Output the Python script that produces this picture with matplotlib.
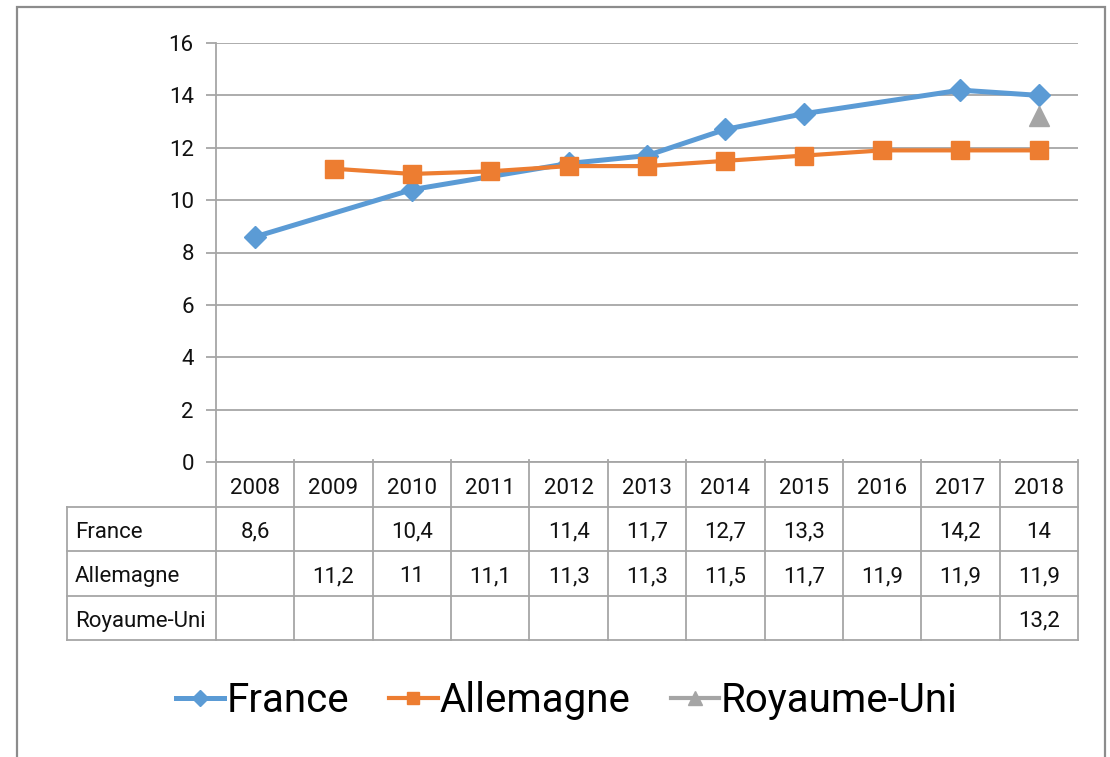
import numpy as np
import matplotlib
matplotlib.use('Agg')
import matplotlib.pyplot as plt
import matplotlib.patches as mpatches
from matplotlib import font_manager

names = {f.name for f in font_manager.fontManager.ttflist}
base = 'Liberation Sans Narrow' if 'Liberation Sans Narrow' in names else 'Roboto'
plt.rcParams['font.family'] = [base, 'DejaVu Sans']

# data
years = ['2008', '2009', '2010', '2011', '2012', '2013', '2014', '2015', '2016', '2017', '2018']
france = [8.6, None, 10.4, None, 11.4, 11.7, 12.7, 13.3, None, 14.2, 14]
allemagne = [None, 11.2, 11, 11.1, 11.3, 11.3, 11.5, 11.7, 11.9, 11.9, 11.9]
royaume_uni = [None, None, None, None, None, None, None, None, None, None, 13.2]
series_names = ['France', 'Allemagne', 'Royaume-Uni']
series = [france, allemagne, royaume_uni]
colors = ['#5B9BD5', '#ED7D31', '#A5A5A5']
markers = ['D', 's', '^']

W, H = 1110, 757
fig = plt.figure(figsize=(W / 100, H / 100), dpi=100)

def px(l, t, r, b):
    return [l / W, 1 - b / H, (r - l) / W, (b - t) / H]

ax = fig.add_axes(px(216, 43, 1078, 462))
x = np.arange(len(years))
for vals, name, c, m, lw, ms in zip(series, series_names, colors, markers, [3.6, 3.0, 3.0], [11, 12.5, 14]):
    xs = [i for i, v in enumerate(vals) if v is not None]
    ys = [v for v in vals if v is not None]
    ax.plot(xs, ys, color=c, lw=lw, marker=m, ms=ms, mec=c, label=name, zorder=3)

ax.set_xlim(-0.5, len(years) - 0.5)
ax.set_ylim(0, 16)
ax.set_yticks(np.arange(0, 17, 2))
ax.yaxis.grid(True, color='#A6A6A6', lw=1.3)
ax.set_axisbelow(True)
ax.set_xticks([])
for s in ['top', 'right', 'bottom']:
    ax.spines[s].set_visible(False)
ax.spines['left'].set_color('#A6A6A6')
ax.spines['left'].set_linewidth(1.3)
ax.tick_params(axis='y', length=7, width=1.3, color='#A6A6A6', pad=9, labelsize=16, labelcolor='#111111')

# data table under the plot
left_px = 67
ncat = len(years)
cat_w = (1078 - 216) / ncat
tx0 = -0.5 - (216 - left_px) / cat_w
tab = fig.add_axes(px(left_px, 462, 1078, 640))
tab.set_xlim(tx0, ncat - 0.5)
tab.set_ylim(4, 0)
tab.axis('off')
lc = '#A6A6A6'
tab.plot([-0.5, ncat - 0.5], [0, 0], color=lc, lw=1.3, clip_on=False)
for i in range(ncat + 1):
    tab.plot([i - 0.5, i - 0.5], [-0.05, 4], color=lc, lw=1.3, clip_on=False)
for r in [1, 2, 3, 4]:
    tab.plot([tx0, ncat - 0.5], [r, r], color=lc, lw=1.3, clip_on=False)
tab.plot([tx0, tx0], [1, 4], color=lc, lw=1.3, clip_on=False)

fs = 16
for i, yr in enumerate(years):
    tab.text(i, 0.6, yr, ha='center', va='center', fontsize=fs, color='#111111')
for r, (name, vals) in enumerate(zip(series_names, series)):
    tab.text(tx0 + 0.1, r + 1.58, name, ha='left', va='center', fontsize=fs, color='#111111')
    for i, v in enumerate(vals):
        if v is not None:
            lab = ('%g' % v).replace('.', ',')
            tab.text(i, r + 1.58, lab, ha='center', va='center', fontsize=fs, color='#111111')

fig.legend(loc='center', bbox_to_anchor=(567 / W, 1 - 701 / H), ncol=3, frameon=False,
           fontsize=29, handlelength=1.2, handletextpad=0.05, columnspacing=1.0,
           markerscale=0.7)

# outer frame
fig.patches.append(mpatches.Rectangle((17 / W, -0.1), (1105 - 17) / W, 1.1 - 7 / H,
                                      transform=fig.transFigure, fill=False,
                                      edgecolor='#8C8C8C', lw=1.6))

plt.savefig('out.png', dpi=100)
